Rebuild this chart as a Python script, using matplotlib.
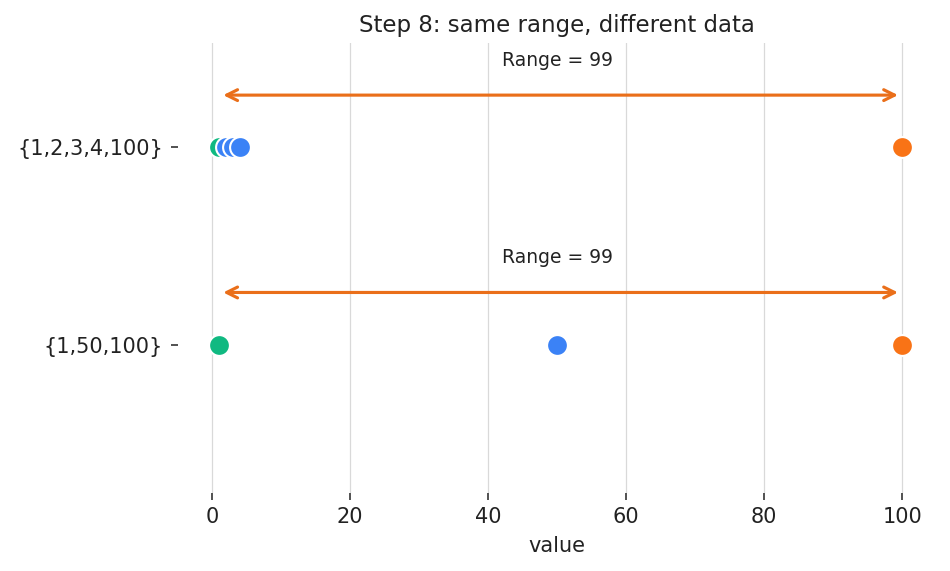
import matplotlib.pyplot as plt

# datasets: same range (99), different spread
set_labels = ["{1,2,3,4,100}", "{1,50,100}"]
set_a = [1, 2, 3, 4, 100]
set_b = [1, 50, 100]
datasets = [set_a, set_b]
y_pos = [1, 0]

green = "#10b981"
blue = "#3b82f6"
orange = "#f97316"

fig = plt.figure(figsize=(950 / 150, 571 / 150), dpi=150)
ax = fig.add_axes([0.187, 0.137, 0.799, 0.788])

for vals, y in zip(datasets, y_pos):
    lo, hi = min(vals), max(vals)
    for v in vals:
        if v == lo:
            c = green
        elif v == hi:
            c = orange
        else:
            c = blue
        ax.scatter(v, y, s=100, color=c, edgecolor="white", linewidth=1.0, zorder=3)
    # range arrow
    ax.annotate("", xy=(lo, y + 0.265), xytext=(hi, y + 0.265),
                arrowprops=dict(arrowstyle="<->", color="#ea6f1a", lw=1.5,
                                mutation_scale=13, shrinkA=2, shrinkB=2))
    ax.text(50, y + 0.44, f"Range = {hi - lo}", ha="center", va="center",
            fontsize=9, color="#222222")

ax.set_xlim(-5, 105)
ax.set_ylim(-0.75, 1.53)
ax.set_yticks(y_pos)
ax.set_yticklabels(set_labels)
ax.set_xticks([0, 20, 40, 60, 80, 100])
ax.tick_params(axis="both", labelsize=10, colors="#333333", labelcolor="#222222",
               length=3.5, width=0.8)
ax.grid(axis="x", color="#d9d9d9", lw=0.6)
ax.set_axisbelow(True)
for s in ax.spines.values():
    s.set_visible(False)

ax.set_xlabel("value", fontsize=10, color="#222222")
ax.set_title("Step 8: same range, different data", fontsize=11, color="#222222", pad=5)

fig.savefig("out.png", dpi=150)
